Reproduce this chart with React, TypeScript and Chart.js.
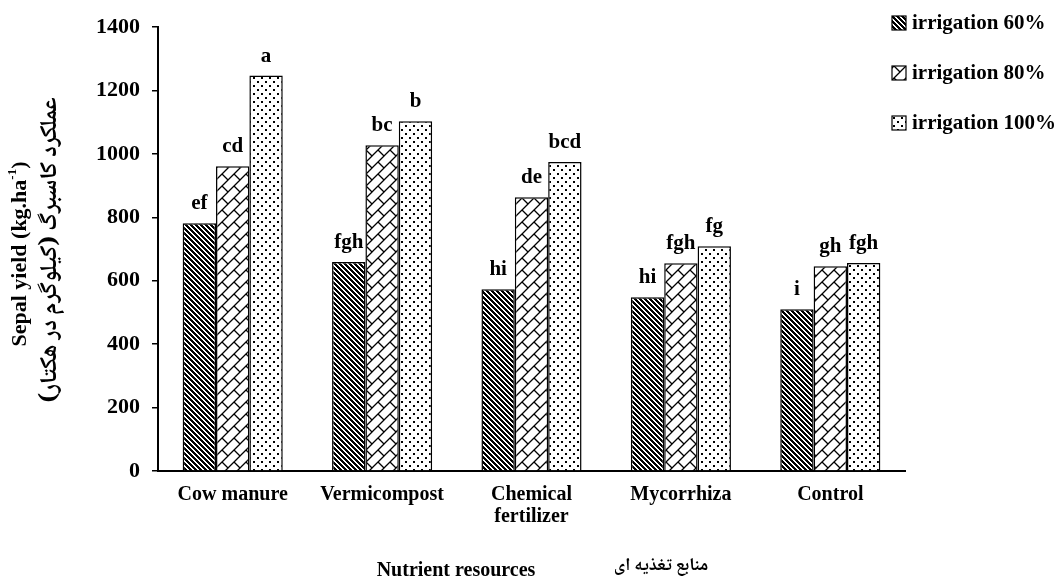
import React, { useEffect, useRef } from "react";
import { Chart, registerables } from "chart.js";

Chart.register(...registerables);

const categories: (string | string[])[] = [
  "Cow manure",
  "Vermicompost",
  ["Chemical", "fertilizer"],
  "Mycorrhiza",
  "Control",
];
const seriesNames = ["irrigation 60%", "irrigation 80%", "irrigation 100%"];
const yield60 = [781, 659, 573, 548, 510];
const yield80 = [961, 1027, 863, 655, 646];
const yield100 = [1247, 1103, 974, 709, 656];
const letters60 = ["ef", "fgh", "hi", "hi", "i"];
const letters80 = ["cd", "bc", "de", "fgh", "gh"];
const letters100 = ["a", "b", "bcd", "fg", "fgh"];
const yMin = 0;
const yMax = 1400;
const yStep = 200;
const yTitleEn = "Sepal yield (kg.ha";
const yTitleSup = "-1";
const yTitleFa = "عملکرد کاسبرگ (کیلوگرم در هکتار)";
const xTitleEn = "Nutrient resources";
const xTitleFa = "منابع تغذیه ای";

const SERIF = '"Liberation Serif", "Times New Roman", serif';
const FA = '"Noto Naskh Arabic", "Noto Sans Arabic", "DejaVu Sans", sans-serif';

function makePattern(kind: string): CanvasPattern | string {
  const c = document.createElement("canvas");
  let size = 8;
  if (kind === "diag") size = 5;
  if (kind === "brick") size = 12;
  if (kind === "dots") size = 8;
  c.width = size;
  c.height = size;
  const g = c.getContext("2d")!;
  g.fillStyle = "#fff";
  g.fillRect(0, 0, size, size);
  g.fillStyle = "#000";
  g.strokeStyle = "#000";
  if (kind === "diag") {
    for (let x = 0; x < size; x++) {
      for (let y = 0; y < size; y++) {
        if ((((x - y) % size) + size) % size < 3) g.fillRect(x, y, 1, 1);
      }
    }
  } else if (kind === "brick") {
    g.lineWidth = 1.3;
    g.beginPath();
    g.moveTo(-2, size + 2);
    g.lineTo(size + 2, -2);
    g.moveTo(-2, 2);
    g.lineTo(2, -2);
    g.moveTo(size - 2, size + 2);
    g.lineTo(size + 2, size - 2);
    g.moveTo(size / 2, size / 2);
    g.lineTo(size, size);
    g.stroke();
  } else {
    g.fillRect(1, 1, 2, 2);
    g.fillRect(5, 5, 2, 2);
  }
  const ctx = document.createElement("canvas").getContext("2d")!;
  return ctx.createPattern(c, "repeat") || "#888";
}

export default function App() {
  const ref = useRef<HTMLCanvasElement | null>(null);

  useEffect(() => {
    const canvas = ref.current;
    if (!canvas) return;
    const patterns = [makePattern("diag"), makePattern("brick"), makePattern("dots")];
    const letters = [letters60, letters80, letters100];

    const overlay = {
      id: "overlay",
      afterDatasetsDraw(chart: any) {
        const ctx = chart.ctx as CanvasRenderingContext2D;
        ctx.save();
        ctx.fillStyle = "#000";
        ctx.font = `bold 21px ${SERIF}`;
        ctx.textAlign = "center";
        ctx.textBaseline = "alphabetic";
        for (let d = 0; d < 3; d++) {
          const meta = chart.getDatasetMeta(d);
          meta.data.forEach((bar: any, i: number) => {
            ctx.fillText(letters[d][i], bar.x, bar.y - 14);
          });
        }
        ctx.restore();
      },
      afterDraw(chart: any) {
        const ctx = chart.ctx as CanvasRenderingContext2D;
        ctx.save();
        ctx.fillStyle = "#000";
        // legend
        for (let d = 0; d < 3; d++) {
          const cy = 23 + d * 50;
          ctx.fillStyle = patterns[d] as any;
          ctx.fillRect(892, cy - 7, 14, 14);
          ctx.strokeStyle = "#000";
          ctx.lineWidth = 1.2;
          ctx.strokeRect(892, cy - 7, 14, 14);
          ctx.fillStyle = "#000";
          ctx.font = `bold 21px ${SERIF}`;
          ctx.textAlign = "left";
          ctx.textBaseline = "middle";
          ctx.fillText(seriesNames[d], 912, cy + 1);
        }
        // y title (English)
        ctx.save();
        ctx.translate(20, 254);
        ctx.rotate(-Math.PI / 2);
        ctx.textBaseline = "middle";
        ctx.textAlign = "left";
        const fMain = `bold 22px ${SERIF}`;
        const fSup = `bold 13px ${SERIF}`;
        ctx.font = fMain;
        const w1 = ctx.measureText(yTitleEn).width;
        const w3 = ctx.measureText(")").width;
        ctx.font = fSup;
        const w2 = ctx.measureText(yTitleSup).width;
        let x = -(w1 + w2 + w3) / 2;
        ctx.font = fMain;
        ctx.fillText(yTitleEn, x, 0);
        x += w1;
        ctx.font = fSup;
        ctx.fillText(yTitleSup, x, -7);
        x += w2;
        ctx.font = fMain;
        ctx.fillText(")", x, 0);
        ctx.restore();

        // y title (Persian)
        ctx.save();
        ctx.translate(53, 250);
        ctx.rotate(-Math.PI / 2);
        ctx.textBaseline = "middle";
        ctx.textAlign = "center";
        (ctx as any).direction = "rtl";
        ctx.font = `bold 24px ${FA}`;
        ctx.fillText(yTitleFa, 0, 0);
        ctx.restore();

        // x title
        ctx.textBaseline = "middle";
        ctx.textAlign = "center";
        ctx.font = `bold 20px ${SERIF}`;
        ctx.fillText(xTitleEn, 456, 571);
        ctx.save();
        (ctx as any).direction = "rtl";
        ctx.font = `bold 18px ${FA}`;
        ctx.fillText(xTitleFa, 661, 568);
        ctx.restore();
        ctx.restore();
      },
    };

    const chart = new Chart(canvas, {
      type: "bar",
      data: {
        labels: categories as any,
        datasets: [yield60, yield80, yield100].map((vals, i) => ({
          label: seriesNames[i],
          data: vals,
          backgroundColor: patterns[i] as any,
          borderColor: "#000",
          borderWidth: 1.5,
          borderSkipped: "bottom",
          categoryPercentage: 0.67,
          barPercentage: 1.0,
        })),
      },
      options: {
        animation: false,
        responsive: false,
        devicePixelRatio: 1,
        layout: { padding: { left: 0, right: 156, top: 27, bottom: 0 } },
        plugins: { legend: { display: false }, tooltip: { enabled: false } },
        scales: {
          x: {
            grid: { display: false, drawTicks: false },
            border: { display: true, color: "#000", width: 2 },
            ticks: {
              color: "#000",
              padding: 13,
              maxRotation: 0,
              autoSkip: false,
              font: { family: SERIF, size: 20, weight: "bold", lineHeight: 1.1 },
            },
            afterFit(scale: any) {
              scale.height = 117;
            },
          },
          y: {
            min: yMin,
            max: yMax,
            grid: {
              display: true,
              drawOnChartArea: false,
              drawTicks: true,
              tickLength: 6,
              color: "#000",
              lineWidth: 1.5,
            },
            border: { display: true, color: "#000", width: 2 },
            ticks: {
              stepSize: yStep,
              color: "#000",
              padding: 12,
              font: { family: SERIF, size: 22, weight: "bold" },
              callback: (v: any) => String(v),
            },
            afterFit(scale: any) {
              scale.width = 158;
            },
          },
        },
      },
      plugins: [overlay],
    });
    return () => chart.destroy();
  }, []);

  return (
    <div style={{ position: "absolute", left: 0, top: 0, width: 1061, height: 588, background: "#fff" }}>
      <canvas ref={ref} width={1061} height={588} style={{ display: "block" }} />
    </div>
  );
}
